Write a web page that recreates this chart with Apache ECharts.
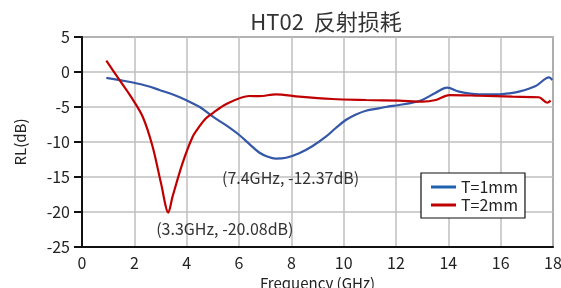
<!DOCTYPE html>
<html><head><meta charset="utf-8">
<script src="https://cdn.jsdelivr.net/npm/echarts@6/dist/echarts.min.js"></script>
<style>html,body{margin:0;padding:0;background:#fff}#c{width:561px;height:288px}</style>
</head><body><div id="c"></div>
<script>
const titleText = 'HT02  反射损耗';
const xTicks = [0, 2, 4, 6, 8, 10, 12, 14, 16, 18];
const yTicks = [-25, -20, -15, -10, -5, 0, 5];
const seriesNames = ['T=1mm', 'T=2mm'];
const freq1 = [0.93, 1.5, 1.94, 2.5, 2.96, 3.5, 3.97, 4.5, 4.99, 5.5, 6.01, 6.4, 6.77, 7.1, 7.4, 7.8, 8.3, 8.8, 9.32, 9.7, 10.08, 10.45, 10.85, 11.35, 11.61, 12.12, 12.6, 13.0, 13.52, 13.96, 14.41, 15.17, 15.94, 16.3, 16.7, 17.34, 17.85, 17.97];
const rl1 = [-0.85, -1.2, -1.5, -2.0, -2.57, -3.25, -4.0, -5.0, -6.35, -7.6, -9.0, -10.3, -11.5, -12.1, -12.37, -12.25, -11.6, -10.6, -9.24, -8.0, -6.86, -6.1, -5.53, -5.19, -5.0, -4.71, -4.4, -4.0, -2.96, -2.24, -2.81, -3.19, -3.19, -3.05, -2.81, -2.0, -0.76, -1.14];
const freq2 = [0.93, 1.43, 1.87, 2.32, 2.7, 3.02, 3.3, 3.46, 3.84, 4.23, 4.48, 4.74, 4.99, 5.5, 6.39, 6.77, 7.41, 8.3, 9.57, 10.85, 12.12, 13.0, 13.52, 14.03, 15.17, 16.45, 17.46, 17.78, 17.91];
const rl2 = [1.61, -1.14, -3.53, -6.39, -10.67, -15.9, -20.08, -17.81, -13.04, -9.24, -7.81, -6.61, -5.9, -4.6, -3.43, -3.45, -3.19, -3.53, -3.86, -4.0, -4.1, -4.24, -4.0, -3.29, -3.39, -3.53, -3.61, -4.39, -4.1];
const mark1 = [7.4, -12.37];
const mark2 = [3.3, -20.08];
const markText1 = '(7.4GHz, -12.37dB)';
const markText2 = '(3.3GHz, -20.08dB)';

const font = '"Noto Sans CJK SC", "Noto Sans", sans-serif';
const chart = echarts.init(document.getElementById('c'), null, {renderer: 'canvas'});
const zip = (a, b) => a.map((v, i) => [v, b[i]]);
chart.setOption({
  animation: false,
  textStyle: {fontFamily: font},
  title: {text: titleText, left: 321, textAlign: 'center', top: 6,
    textStyle: {fontFamily: font, fontSize: 22, fontWeight: 'normal', color: '#333'}},
  grid: {left: 82, right: 8, top: 37, bottom: 41, containLabel: false, outerBoundsMode: 'none',
    show: true, borderColor: '#222', borderWidth: 1.2},
  legend: {
    data: seriesNames, orient: 'vertical', left: 421, top: 173,
    backgroundColor: '#fff', borderColor: '#111', borderWidth: 1.2, padding: [6, 7, 5, 10],
    itemWidth: 25, itemHeight: 3, itemGap: 2,
    icon: 'rect',
    textStyle: {fontFamily: font, fontSize: 16, color: '#222'}
  },
  xAxis: {
    type: 'value', min: 0, max: 18, interval: 2,
    name: 'Frequency (GHz)', nameLocation: 'middle', nameGap: 23,
    nameTextStyle: {fontFamily: font, fontSize: 15, color: '#222'},
    axisLine: {show: true, onZero: false, lineStyle: {color: '#111', width: 2}},
    axisTick: {show: false},
    axisLabel: {fontFamily: font, fontSize: 16, color: '#222', margin: 8,
      formatter: v => xTicks.includes(v) ? String(v) : ''},
    splitLine: {show: true, lineStyle: {color: '#bfbfbf', width: 1.5}}
  },
  yAxis: {
    type: 'value', min: -25, max: 5, interval: 5,
    name: 'RL(dB)', nameLocation: 'middle', nameGap: 54, nameRotate: 90,
    nameTextStyle: {fontFamily: font, fontSize: 15, color: '#222'},
    axisLine: {show: true, onZero: false, lineStyle: {color: '#111', width: 2}},
    axisTick: {show: true, inside: false, length: 8, lineStyle: {color: '#111', width: 2}},
    axisLabel: {fontFamily: font, fontSize: 16, color: '#222', margin: 12,
      formatter: v => yTicks.includes(v) ? String(v) : ''},
    splitLine: {show: true, lineStyle: {color: '#bfbfbf', width: 1.5}}
  },
  series: [
    {name: seriesNames[0], type: 'line', smooth: 0.35, showSymbol: false, data: zip(freq1, rl1),
      lineStyle: {color: '#3557a7', width: 2.2}, itemStyle: {color: '#1f63b0'},
      markPoint: {symbol: 'circle', symbolSize: 0, data: [{coord: mark1}],
        label: {show: true, formatter: markText1, offset: [15, 19.5],
          fontFamily: font, fontSize: 16, color: '#333'}}},
    {name: seriesNames[1], type: 'line', smooth: 0.3, showSymbol: false, data: zip(freq2, rl2),
      lineStyle: {color: '#c00000', width: 2.2}, itemStyle: {color: '#c00000'},
      markPoint: {symbol: 'circle', symbolSize: 0, data: [{coord: mark2}],
        label: {show: true, formatter: markText2, offset: [56.5, 16.5],
          fontFamily: font, fontSize: 16, color: '#333'}}}
  ]
});
</script></body></html>
